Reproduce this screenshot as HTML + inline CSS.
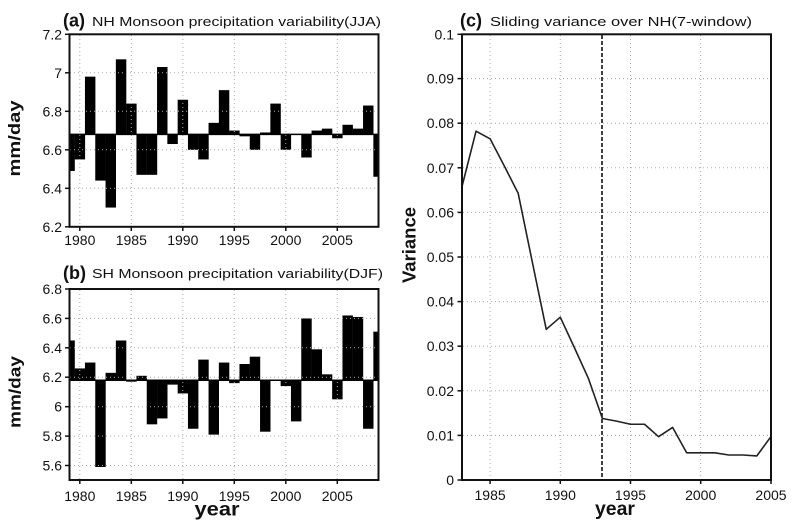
<!DOCTYPE html>
<html><head><meta charset="utf-8"><style>
html,body{margin:0;padding:0;background:#fff;}
svg{display:block;}
text{font-family:"Liberation Sans",Arial,sans-serif;fill:#111;}
</style></head><body>
<svg width="800" height="530" viewBox="0 0 800 530" xmlns="http://www.w3.org/2000/svg">
<rect width="800" height="530" fill="#fff"/>

<!-- ================= Panel (a) ================= -->
<g fill="#000">
<rect x="69.5" y="134.4" width="5.3" height="36.58"/>
<rect x="74.65" y="134.4" width="10.45" height="25.03"/>
<rect x="84.95" y="76.65" width="10.45" height="57.75"/>
<rect x="95.25" y="134.4" width="10.45" height="46.2"/>
<rect x="105.55" y="134.4" width="10.45" height="73.15"/>
<rect x="115.85" y="59.33" width="10.45" height="75.07"/>
<rect x="126.15" y="103.6" width="10.45" height="30.8"/>
<rect x="136.45" y="134.4" width="10.45" height="40.43"/>
<rect x="146.75" y="134.4" width="10.45" height="40.43"/>
<rect x="157.05" y="67.03" width="10.45" height="67.37"/>
<rect x="167.35" y="134.4" width="10.45" height="9.63"/>
<rect x="177.65" y="99.75" width="10.45" height="34.65"/>
<rect x="187.95" y="134.4" width="10.45" height="15.4"/>
<rect x="198.25" y="134.4" width="10.45" height="25.03"/>
<rect x="208.55" y="122.85" width="10.45" height="11.55"/>
<rect x="218.85" y="90.13" width="10.45" height="44.27"/>
<rect x="229.15" y="130.55" width="10.45" height="3.85"/>
<rect x="239.45" y="134.4" width="10.45" height="1.93"/>
<rect x="249.75" y="134.4" width="10.45" height="15.4"/>
<rect x="260.05" y="132.48" width="10.45" height="1.92"/>
<rect x="270.35" y="103.6" width="10.45" height="30.8"/>
<rect x="280.65" y="134.4" width="10.45" height="15.4"/>
<rect x="301.25" y="134.4" width="10.45" height="23.1"/>
<rect x="311.55" y="130.55" width="10.45" height="3.85"/>
<rect x="321.85" y="128.63" width="10.45" height="5.77"/>
<rect x="332.15" y="134.4" width="10.45" height="3.85"/>
<rect x="342.45" y="124.78" width="10.45" height="9.62"/>
<rect x="352.75" y="128.63" width="10.45" height="5.77"/>
<rect x="363.05" y="105.53" width="10.45" height="28.87"/>
<rect x="373.35" y="134.4" width="5.15" height="42.35"/>
</g>
<g stroke="#aaa" stroke-width="1" stroke-dasharray="1 3" fill="none">
<line x1="70" y1="72.8" x2="378" y2="72.8"/>
<line x1="70" y1="111.3" x2="378" y2="111.3"/>
<line x1="70" y1="149.8" x2="378" y2="149.8"/>
<line x1="70" y1="188.3" x2="378" y2="188.3"/>
<line x1="79.8" y1="35" x2="79.8" y2="226"/>
<line x1="131.3" y1="35" x2="131.3" y2="226"/>
<line x1="182.8" y1="35" x2="182.8" y2="226"/>
<line x1="234.3" y1="35" x2="234.3" y2="226"/>
<line x1="285.8" y1="35" x2="285.8" y2="226"/>
<line x1="337.3" y1="35" x2="337.3" y2="226"/>
</g>
<line x1="69.5" y1="134.4" x2="378.5" y2="134.4" stroke="#000" stroke-width="1.5"/>
<rect x="69.5" y="34.3" width="309" height="192.5" fill="none" stroke="#111" stroke-width="2"/>
<g stroke="#111" stroke-width="1.5">
<line x1="65" y1="34.3" x2="69.5" y2="34.3"/>
<line x1="65" y1="72.8" x2="69.5" y2="72.8"/>
<line x1="65" y1="111.3" x2="69.5" y2="111.3"/>
<line x1="65" y1="149.8" x2="69.5" y2="149.8"/>
<line x1="65" y1="188.3" x2="69.5" y2="188.3"/>
<line x1="65" y1="226.8" x2="69.5" y2="226.8"/>
<line x1="79.8" y1="226.8" x2="79.8" y2="231"/>
<line x1="131.3" y1="226.8" x2="131.3" y2="231"/>
<line x1="182.8" y1="226.8" x2="182.8" y2="231"/>
<line x1="234.3" y1="226.8" x2="234.3" y2="231"/>
<line x1="285.8" y1="226.8" x2="285.8" y2="231"/>
<line x1="337.3" y1="226.8" x2="337.3" y2="231"/>
</g>
<g font-size="14" text-anchor="end">
<text x="62" y="39.3">7.2</text>
<text x="62" y="77.8">7</text>
<text x="62" y="116.3">6.8</text>
<text x="62" y="154.8">6.6</text>
<text x="62" y="193.3">6.4</text>
<text x="62" y="231.8">6.2</text>
</g>
<g font-size="14" text-anchor="middle">
<text x="79.8" y="245">1980</text>
<text x="131.3" y="245">1985</text>
<text x="182.8" y="245">1990</text>
<text x="234.3" y="245">1995</text>
<text x="285.8" y="245">2000</text>
<text x="337.3" y="245">2005</text>
</g>
<text x="63" y="26.5" font-size="18" font-weight="bold">(a)</text>
<text x="92" y="26" font-size="13" textLength="289" lengthAdjust="spacingAndGlyphs">NH Monsoon precipitation variability(JJA)</text>
<text transform="translate(20,138.5) rotate(-90)" font-size="17" font-weight="bold" text-anchor="middle" textLength="76" lengthAdjust="spacingAndGlyphs">mm/day</text>

<!-- ================= Panel (b) ================= -->
<g fill="#000">
<rect x="69.5" y="340.49" width="5.3" height="39.71"/>
<rect x="74.65" y="368.43" width="10.45" height="11.77"/>
<rect x="84.95" y="362.55" width="10.45" height="17.65"/>
<rect x="95.25" y="380.2" width="10.45" height="86.79"/>
<rect x="105.55" y="372.85" width="10.45" height="7.35"/>
<rect x="115.85" y="340.49" width="10.45" height="39.71"/>
<rect x="126.15" y="380.2" width="10.45" height="1.47"/>
<rect x="136.45" y="375.79" width="10.45" height="4.41"/>
<rect x="146.75" y="380.2" width="10.45" height="44.13"/>
<rect x="157.05" y="380.2" width="10.45" height="38.25"/>
<rect x="167.35" y="380.2" width="10.45" height="4.42"/>
<rect x="177.65" y="380.2" width="10.45" height="13.24"/>
<rect x="187.95" y="380.2" width="10.45" height="48.55"/>
<rect x="198.25" y="359.61" width="10.45" height="20.59"/>
<rect x="208.55" y="380.2" width="10.45" height="54.43"/>
<rect x="218.85" y="362.55" width="10.45" height="17.65"/>
<rect x="229.15" y="380.2" width="10.45" height="2.94"/>
<rect x="239.45" y="364.02" width="10.45" height="16.18"/>
<rect x="249.75" y="356.67" width="10.45" height="23.53"/>
<rect x="260.05" y="380.2" width="10.45" height="51.49"/>
<rect x="280.65" y="380.2" width="10.45" height="5.89"/>
<rect x="290.95" y="380.2" width="10.45" height="41.19"/>
<rect x="301.25" y="318.42" width="10.45" height="61.78"/>
<rect x="311.55" y="349.31" width="10.45" height="30.89"/>
<rect x="321.85" y="374.32" width="10.45" height="5.88"/>
<rect x="332.15" y="380.2" width="10.45" height="19.13"/>
<rect x="342.45" y="315.48" width="10.45" height="64.72"/>
<rect x="352.75" y="316.95" width="10.45" height="63.25"/>
<rect x="363.05" y="380.2" width="10.45" height="48.55"/>
<rect x="373.35" y="331.66" width="5.15" height="48.54"/>
</g>
<g stroke="#aaa" stroke-width="1" stroke-dasharray="1 3" fill="none">
<line x1="70" y1="318.4" x2="378" y2="318.4"/>
<line x1="70" y1="347.8" x2="378" y2="347.8"/>
<line x1="70" y1="377.2" x2="378" y2="377.2"/>
<line x1="70" y1="406.7" x2="378" y2="406.7"/>
<line x1="70" y1="436.1" x2="378" y2="436.1"/>
<line x1="70" y1="465.5" x2="378" y2="465.5"/>
<line x1="79.8" y1="290" x2="79.8" y2="479"/>
<line x1="131.3" y1="290" x2="131.3" y2="479"/>
<line x1="182.8" y1="290" x2="182.8" y2="479"/>
<line x1="234.3" y1="290" x2="234.3" y2="479"/>
<line x1="285.8" y1="290" x2="285.8" y2="479"/>
<line x1="337.3" y1="290" x2="337.3" y2="479"/>
</g>
<line x1="69.5" y1="380.2" x2="378.5" y2="380.2" stroke="#000" stroke-width="1.5"/>
<rect x="69.5" y="289" width="309" height="191" fill="none" stroke="#111" stroke-width="2"/>
<g stroke="#111" stroke-width="1.5">
<line x1="65" y1="289" x2="69.5" y2="289"/>
<line x1="65" y1="318.4" x2="69.5" y2="318.4"/>
<line x1="65" y1="347.8" x2="69.5" y2="347.8"/>
<line x1="65" y1="377.2" x2="69.5" y2="377.2"/>
<line x1="65" y1="406.7" x2="69.5" y2="406.7"/>
<line x1="65" y1="436.1" x2="69.5" y2="436.1"/>
<line x1="65" y1="465.5" x2="69.5" y2="465.5"/>
<line x1="79.8" y1="480" x2="79.8" y2="484"/>
<line x1="131.3" y1="480" x2="131.3" y2="484"/>
<line x1="182.8" y1="480" x2="182.8" y2="484"/>
<line x1="234.3" y1="480" x2="234.3" y2="484"/>
<line x1="285.8" y1="480" x2="285.8" y2="484"/>
<line x1="337.3" y1="480" x2="337.3" y2="484"/>
</g>
<g font-size="14" text-anchor="end">
<text x="62" y="294">6.8</text>
<text x="62" y="323.4">6.6</text>
<text x="62" y="352.8">6.4</text>
<text x="62" y="382.2">6.2</text>
<text x="62" y="411.7">6</text>
<text x="62" y="441.1">5.8</text>
<text x="62" y="470.5">5.6</text>
</g>
<g font-size="14" text-anchor="middle">
<text x="79.8" y="501">1980</text>
<text x="131.3" y="501">1985</text>
<text x="182.8" y="501">1990</text>
<text x="234.3" y="501">1995</text>
<text x="285.8" y="501">2000</text>
<text x="337.3" y="501">2005</text>
</g>
<text x="63" y="279" font-size="18" font-weight="bold">(b)</text>
<text x="92" y="278" font-size="13" textLength="291" lengthAdjust="spacingAndGlyphs">SH Monsoon precipitation variability(DJF)</text>
<text transform="translate(20.5,392) rotate(-90)" font-size="17" font-weight="bold" text-anchor="middle" textLength="72" lengthAdjust="spacingAndGlyphs">mm/day</text>
<text x="217" y="515.5" font-size="19" font-weight="bold" text-anchor="middle" textLength="45" lengthAdjust="spacingAndGlyphs">year</text>

<!-- ================= Panel (c) ================= -->
<g stroke="#aaa" stroke-width="1" stroke-dasharray="1 3" fill="none">
<line x1="463" y1="78.6" x2="770" y2="78.6"/>
<line x1="463" y1="123.2" x2="770" y2="123.2"/>
<line x1="463" y1="167.8" x2="770" y2="167.8"/>
<line x1="463" y1="212.4" x2="770" y2="212.4"/>
<line x1="463" y1="257" x2="770" y2="257"/>
<line x1="463" y1="301.6" x2="770" y2="301.6"/>
<line x1="463" y1="346.2" x2="770" y2="346.2"/>
<line x1="463" y1="390.8" x2="770" y2="390.8"/>
<line x1="463" y1="435.4" x2="770" y2="435.4"/>
<line x1="490.1" y1="35" x2="490.1" y2="479"/>
<line x1="560.3" y1="35" x2="560.3" y2="479"/>
<line x1="630.5" y1="35" x2="630.5" y2="479"/>
<line x1="700.7" y1="35" x2="700.7" y2="479"/>
</g>
<line x1="602" y1="35" x2="602" y2="480" stroke="#111" stroke-width="1.6" stroke-dasharray="4 2"/>
<polyline fill="none" stroke="#222" stroke-width="1.6" stroke-linejoin="round" points="462,186.5 476.04,131.2 490.08,138.8 504.12,165.6 518.16,193.2 532.2,261.5 546.24,329.3 560.28,317.2 574.32,347.5 588.36,378.3 602.4,418.5 616.44,421.1 630.48,424.25 644.52,424.25 658.56,436.7 672.6,427.4 686.64,452.8 700.68,452.8 714.72,452.8 728.76,455 742.8,455 756.84,455.9 770.88,436.7"/>
<rect x="462" y="34.3" width="309" height="445.7" fill="none" stroke="#111" stroke-width="2"/>
<g stroke="#111" stroke-width="1.5">
<line x1="457.5" y1="34.3" x2="462" y2="34.3"/>
<line x1="457.5" y1="78.6" x2="462" y2="78.6"/>
<line x1="457.5" y1="123.2" x2="462" y2="123.2"/>
<line x1="457.5" y1="167.8" x2="462" y2="167.8"/>
<line x1="457.5" y1="212.4" x2="462" y2="212.4"/>
<line x1="457.5" y1="257" x2="462" y2="257"/>
<line x1="457.5" y1="301.6" x2="462" y2="301.6"/>
<line x1="457.5" y1="346.2" x2="462" y2="346.2"/>
<line x1="457.5" y1="390.8" x2="462" y2="390.8"/>
<line x1="457.5" y1="435.4" x2="462" y2="435.4"/>
<line x1="457.5" y1="480" x2="462" y2="480"/>
<line x1="490.1" y1="480" x2="490.1" y2="484"/>
<line x1="560.3" y1="480" x2="560.3" y2="484"/>
<line x1="630.5" y1="480" x2="630.5" y2="484"/>
<line x1="700.7" y1="480" x2="700.7" y2="484"/>
<line x1="771" y1="480" x2="771" y2="484"/>
</g>
<g font-size="14" text-anchor="end">
<text x="454" y="39.3">0.1</text>
<text x="454" y="83.6">0.09</text>
<text x="454" y="128.2">0.08</text>
<text x="454" y="172.8">0.07</text>
<text x="454" y="217.4">0.06</text>
<text x="454" y="262">0.05</text>
<text x="454" y="306.6">0.04</text>
<text x="454" y="351.2">0.03</text>
<text x="454" y="395.8">0.02</text>
<text x="454" y="440.4">0.01</text>
<text x="454" y="485">0</text>
</g>
<g font-size="14" text-anchor="middle">
<text x="490.1" y="500">1985</text>
<text x="560.3" y="500">1990</text>
<text x="630.5" y="500">1995</text>
<text x="700.7" y="500">2000</text>
<text x="771" y="500">2005</text>
</g>
<text x="460" y="26.5" font-size="18" font-weight="bold">(c)</text>
<text x="490" y="26" font-size="13" textLength="262" lengthAdjust="spacingAndGlyphs">Sliding variance over NH(7-window)</text>
<text transform="translate(415.5,245) rotate(-90)" font-size="18" font-weight="bold" text-anchor="middle" textLength="76" lengthAdjust="spacingAndGlyphs">Variance</text>
<text x="615" y="515" font-size="19" font-weight="bold" text-anchor="middle" textLength="40" lengthAdjust="spacingAndGlyphs">year</text>
</svg>
</body></html>
